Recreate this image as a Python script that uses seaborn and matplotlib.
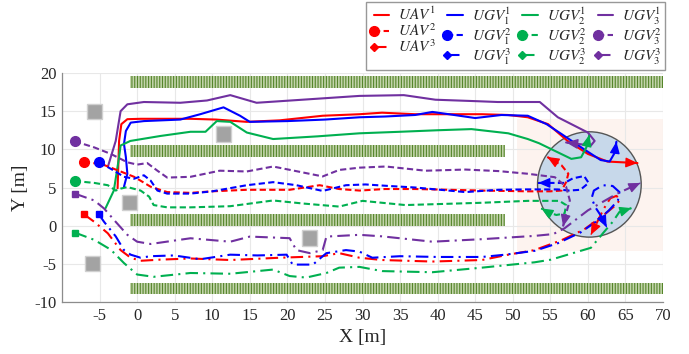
import numpy as np
import pandas as pd
import seaborn as sns
import matplotlib
matplotlib.use("Agg")
import matplotlib.pyplot as plt
from matplotlib.patches import Rectangle, Ellipse
from matplotlib.lines import Line2D
from matplotlib.legend_handler import HandlerLine2D

# ---------------- data ----------------
uav1_x = [-2.6, -2.5, -2.4, -2.1, -1.3, 0.5, 3.0, 7.1, 10.5, 14.6, 19.0, 24.7, 29.6, 32.6, 37.0, 41.5, 45.9, 49.4, 52.0, 54.7, 57.3, 60.0, 62.6, 66.6]
uav1_y = [4.9, 8.0, 11.1, 13.3, 13.95, 14.0, 14.0, 14.0, 13.9, 13.6, 13.8, 14.4, 14.6, 14.8, 14.6, 14.6, 14.6, 14.5, 14.2, 13.3, 11.1, 9.4, 8.4, 8.2]
ugv11_x = [-1.75, -1.3, -1.5, -1.75, -1.5, -0.85, 0.9, 5.75, 8.4, 11.5, 13.7, 15.0, 20.0, 25.0, 29.6, 33.0, 37.0, 39.3, 41.5, 45.0, 48.5, 52.0, 54.5, 56.5, 59.5, 61.7, 62.9, 63.6, 63.8]
ugv11_y = [5.1, 6.8, 9.0, 10.7, 12.4, 13.5, 13.7, 13.9, 14.6, 15.5, 14.4, 13.6, 13.7, 13.9, 14.2, 14.3, 14.5, 14.9, 14.6, 14.1, 14.5, 14.4, 13.3, 12.0, 10.0, 8.6, 8.4, 9.6, 11.0]
ugv21_x = [-4.2, -3.1, -2.4, -2.2, -0.9, 3.1, 7.1, 9.1, 10.6, 12.4, 14.6, 18.1, 24.0, 29.6, 35.0, 40.0, 44.5, 49.4, 52.0, 53.5, 55.6, 57.8, 59.1, 59.8, 60.2]
ugv21_y = [2.3, 4.6, 9.0, 10.5, 11.1, 11.75, 12.3, 12.3, 13.7, 13.6, 12.2, 11.35, 11.7, 12.1, 12.3, 12.5, 12.65, 12.1, 11.35, 10.8, 9.8, 8.75, 8.96, 10.26, 11.9]
ugv31_x = [-3.9, -2.85, -2.2, -1.3, 0.9, 5.75, 9.3, 12.4, 15.9, 22.0, 29.6, 35.5, 39.7, 45.4, 48.0, 53.6, 56.0, 58.2, 60.0, 60.9, 60.4, 57.1]
ugv31_y = [7.7, 11.1, 15.0, 15.9, 16.2, 16.1, 16.4, 17.1, 16.1, 16.5, 17.0, 17.1, 16.5, 16.3, 16.2, 16.2, 14.2, 13.1, 12.2, 11.1, 10.5, 10.9]

uav2_x = [-7.1, -4.8, -3.1, -0.4, 1.8, 4.0, 7.1, 10.0, 14.6, 20.3, 24.3, 26.9, 29.6, 33.0, 37.0, 41.5, 45.9, 52.0, 55.0, 56.5, 57.1, 57.4, 56.5, 54.6]
uav2_y = [8.3, 8.1, 7.45, 6.4, 5.1, 4.4, 4.3, 4.5, 4.7, 4.7, 5.3, 4.8, 4.6, 4.8, 4.8, 4.7, 4.6, 4.5, 4.5, 4.6, 5.7, 6.8, 7.9, 9.0]
ugv12_x = [-5.05, -3.5, -1.75, -0.4, 0.9, 1.8, 2.7, 4.0, 7.1, 10.0, 14.6, 18.1, 21.2, 24.7, 27.8, 30.4, 33.5, 37.0, 43.7, 48.1, 52.0, 56.0, 57.5, 59.0, 60.1, 59.5, 58.0, 56.9, 55.0, 53.4]
ugv12_y = [8.3, 7.45, 6.4, 6.15, 6.6, 5.9, 4.6, 4.2, 4.2, 4.5, 5.3, 5.7, 5.3, 4.55, 5.3, 5.4, 5.2, 5.0, 4.4, 4.7, 4.75, 4.75, 4.6, 4.7, 5.6, 6.5, 6.2, 5.6, 5.6, 5.6]
ugv22_x = [-8.3, -5.7, -3.9, -2.85, -2.2, -1.3, 0.46, 1.6, 2.2, 4.0, 7.1, 12.4, 18.1, 22.1, 26.9, 30.0, 35.7, 45.9, 52.0, 56.2, 57.1, 56.9, 55.8, 54.6, 53.8]
ugv22_y = [5.85, 5.6, 5.3, 4.6, 4.85, 5.06, 4.6, 3.8, 2.7, 2.4, 2.4, 2.55, 3.3, 2.9, 2.5, 3.25, 2.7, 3.0, 3.25, 3.25, 2.7, 1.6, 1.4, 1.8, 2.26]
ugv32_x = [-8.3, -5.7, -3.5, -1.3, 0.0, 1.35, 2.7, 4.0, 7.1, 11.0, 14.6, 18.1, 24.7, 26.9, 29.6, 33.1, 38.4, 43.7, 48.1, 52.0, 55.6, 57.1, 57.6, 57.1, 56.7]
ugv32_y = [11.05, 10.25, 9.4, 8.3, 8.0, 8.2, 7.2, 6.3, 6.4, 7.2, 7.1, 7.75, 6.45, 7.3, 7.6, 7.75, 7.2, 7.35, 7.15, 6.8, 6.35, 5.1, 3.3, 1.6, -0.1]

uav3_x = [-7.1, -5.7, -3.9, -2.2, -0.86, 0.46, 3.1, 7.1, 12.4, 19.0, 24.7, 26.9, 29.6, 32.6, 39.3, 45.9, 49.4, 52.9, 56.5, 59.5, 62.0, 63.6, 64.3, 63.8, 63.0, 62.4, 61.8, 61.2, 60.4]
uav3_y = [1.5, 0.5, -1.0, -3.2, -4.2, -4.6, -4.45, -4.3, -4.5, -4.2, -4.0, -3.6, -4.2, -4.5, -4.7, -4.5, -3.8, -3.2, -1.9, -0.5, 1.3, 2.6, 3.4, 3.9, 3.6, 2.7, 1.6, 0.4, -1.2]
ugv13_x = [-5.1, -4.4, -2.85, -1.75, -0.86, 0.46, 1.8, 4.9, 8.4, 12.4, 16.0, 19.9, 20.7, 23.4, 24.7, 25.2, 27.8, 29.6, 31.3, 35.0, 40.0, 45.9, 49.0, 52.9, 56.0, 59.0, 61.2, 62.8, 64.0, 64.2, 63.3, 62.0, 60.8, 60.5, 61.0, 61.8, 62.5]
ugv13_y = [1.5, 0.5, -1.4, -3.2, -3.8, -4.2, -4.0, -3.9, -4.4, -3.8, -3.9, -3.8, -5.1, -5.1, -4.0, -3.6, -3.2, -3.4, -4.2, -4.0, -4.1, -4.1, -3.8, -3.3, -2.3, -0.9, 0.6, 2.0, 3.3, 4.4, 5.2, 5.3, 4.6, 3.6, 2.4, 1.2, -0.2]
ugv23_x = [-8.3, -5.7, -3.5, -1.75, 0.0, 2.2, 7.1, 12.4, 18.1, 20.3, 22.5, 25.2, 26.9, 29.6, 32.6, 39.3, 45.9, 52.9, 55.1, 58.0, 60.4, 62.0, 63.3, 64.2, 65.8]
ugv23_y = [-0.9, -1.86, -3.15, -4.9, -6.4, -6.7, -6.2, -6.3, -5.75, -6.6, -6.8, -6.2, -5.5, -5.4, -5.95, -6.1, -5.5, -4.8, -4.45, -3.6, -2.9, -1.0, 0.5, 1.8, 2.3]
ugv33_x = [-8.3, -5.7, -4.4, -2.85, -1.3, 0.0, 1.8, 7.1, 12.4, 15.0, 20.3, 21.2, 23.0, 24.7, 25.2, 29.6, 32.6, 39.3, 45.9, 52.9, 55.4, 56.9, 60.0, 63.9, 67.0]
ugv33_y = [4.2, 3.3, 2.25, 0.5, -1.2, -2.1, -2.4, -1.65, -2.1, -1.43, -1.64, -3.2, -3.6, -3.2, -1.43, -1.2, -1.4, -2.1, -1.77, -1.34, -1.1, -0.34, 2.0, 4.2, 5.6]

labels = [r"$UAV^1$", r"$UGV_1^1$", r"$UGV_2^1$", r"$UGV_3^1$",
          r"$UAV^2$", r"$UGV_1^2$", r"$UGV_2^2$", r"$UGV_3^2$",
          r"$UAV^3$", r"$UGV_1^3$", r"$UGV_2^3$", r"$UGV_3^3$"]

band_x0 = [-1.0, -1.0, -1.0, -1.0]
band_x1 = [70.0, 49.0, 49.0, 70.0]
band_y0 = [18.1, 9.05, 0.0, -9.0]
band_h = 1.55

obs_x = [-5.7, -1.0, -6.0, 11.5, 23.0]
obs_y = [15.0, 3.0, -5.0, 12.0, -1.6]
obs_size = 2.0

circle_c = (60.2, 5.4)
circle_r = 6.9
zone_x = [50.5, 70.0]
zone_y = [-3.3, 14.0]

xticks = [-10, -5, 0, 5, 10, 15, 20, 25, 30, 35, 40, 45, 50, 55, 60, 65, 70]
xticklabels = ["", "-5", "0", "5", "10", "15", "20", "25", "30", "35", "40", "45", "50", "55", "60", "65", "70"]
yticks = [-10, -5, 0, 5, 10, 15, 20]
yticklabels = ["-10", "-5", "0", "5", "10", "15", "20"]

# ---------------- style ----------------
sns.set_style("white")
plt.rcParams["font.family"] = ["Liberation Serif", "DejaVu Serif"]
plt.rcParams["mathtext.fontset"] = "stix"
plt.rcParams["hatch.linewidth"] = 0.8

colors = ["#ff0000", "#0000ff", "#00b050", "#7030a0"]
dash2 = (3.0, 1.6)
dash3 = (6.0, 2.5, 1.0, 2.5)

fig = plt.figure(figsize=(6.89, 3.54), dpi=100)
ax = fig.add_axes([62 / 689, 1 - 302 / 354, (663 - 62) / 689, (302 - 73) / 354])

# background decorations
ax.add_patch(Rectangle((zone_x[0], zone_y[0]), zone_x[1] - zone_x[0], zone_y[1] - zone_y[0],
                       facecolor="#fdf3ef", edgecolor="none", zorder=0.5))
for x0, x1, y0 in zip(band_x0, band_x1, band_y0):
    ax.add_patch(Rectangle((x0, y0), x1 - x0, band_h, facecolor="#c3d4ab",
                           edgecolor="#55852a", hatch="|" * 6, linewidth=0, zorder=1))
for ox, oy in zip(obs_x, obs_y):
    ax.add_patch(Rectangle((ox - obs_size / 2, oy - obs_size / 2), obs_size, obs_size,
                           facecolor="#a3a3a3", edgecolor="#d0d0d0", linewidth=1, zorder=1))
ax.add_patch(Ellipse(circle_c, 2 * circle_r, 2 * circle_r, facecolor="#c7d8ea",
                     edgecolor="#555555", linewidth=1.0, zorder=1.2))

groups = [
    [(uav1_x, uav1_y), (ugv11_x, ugv11_y), (ugv21_x, ugv21_y), (ugv31_x, ugv31_y)],
    [(uav2_x, uav2_y), (ugv12_x, ugv12_y), (ugv22_x, ugv22_y), (ugv32_x, ugv32_y)],
    [(uav3_x, uav3_y), (ugv13_x, ugv13_y), (ugv23_x, ugv23_y), (ugv33_x, ugv33_y)],
]
lw = 1.5


def add_arrow(xs, ys, c):
    x1, y1 = xs[-1], ys[-1]
    x0, y0 = xs[-2], ys[-2]
    ax.annotate("", xy=(x1, y1), xytext=(x1 - 0.05 * (x1 - x0), y1 - 0.05 * (y1 - y0)),
                arrowprops=dict(arrowstyle="-|>,head_length=0.7,head_width=0.3", color=c,
                                lw=1.0, shrinkA=0, shrinkB=0, mutation_scale=10), zorder=4)


for gi, group in enumerate(groups):
    for ci, (xs, ys) in enumerate(group):
        c = colors[ci]
        df = pd.DataFrame({"x": xs, "y": ys})
        kw = dict(color=c, linewidth=lw, sort=False, estimator=None, ax=ax, zorder=3)
        line_ax = sns.lineplot(data=df, x="x", y="y", **kw)
        ln = line_ax.lines[-1]
        if gi == 1:
            ln.set_dashes(dash2)
        elif gi == 2:
            ln.set_dashes(dash3)
        if gi == 1:
            ax.plot(xs[0], ys[0], marker="o", markersize=7, color=c, zorder=4)
        elif gi == 2:
            ax.plot(xs[0], ys[0], marker="s", markersize=5, color=c, zorder=4)
        add_arrow(xs, ys, c)

ax.set_xlim(-10, 70)
ax.set_ylim(-10, 20)
ax.set_xticks(xticks)
ax.set_xticklabels(xticklabels, fontsize=12)
ax.set_yticks(yticks)
ax.set_yticklabels(yticklabels, fontsize=12)
ax.set_xlabel("X [m]", fontsize=14, labelpad=4)
ax.set_ylabel("Y [m]", fontsize=14, labelpad=4)
ax.grid(True, color="#e8e8e8", linewidth=0.8)
ax.set_axisbelow(True)
for s in ["top", "right"]:
    ax.spines[s].set_visible(False)
for s in ["left", "bottom"]:
    ax.spines[s].set_color("#8c8c8c")
    ax.spines[s].set_linewidth(0.9)
ax.tick_params(axis="both", direction="in", length=3, color="#8c8c8c", pad=4)


class StartMarkerHandler(HandlerLine2D):
    def create_artists(self, legend, orig_handle, xdescent, ydescent, width, height, fontsize, trans):
        arts = super().create_artists(legend, orig_handle, xdescent, ydescent, width, height, fontsize, trans)
        for a in arts:
            a.set_markevery([0])
        return arts


# legend (column-major order)
handles = []
for ci in range(4):
    for gi in range(3):
        c = colors[ci]
        if gi == 0:
            h = Line2D([], [], color=c, lw=lw)
        elif gi == 1:
            h = Line2D([], [], color=c, lw=lw, marker="o", markersize=7)
            h.set_dashes(dash2)
        else:
            h = Line2D([], [], color=c, lw=lw, marker="D", markersize=4)
            h.set_dashes(dash3)
        handles.append(h)
leg_labels = [labels[gi * 4 + ci] for ci in range(4) for gi in range(3)]
leg = fig.legend(handles, leg_labels, loc="upper right", bbox_to_anchor=(665 / 689, 1 - 2 / 354),
                 ncol=4, numpoints=2, fontsize=11, frameon=True, fancybox=False,
                 handlelength=1.6, handletextpad=0.3, columnspacing=0.4,
                 labelspacing=-0.05, borderpad=0.2, borderaxespad=0,
                 handler_map={Line2D: StartMarkerHandler()})
leg.get_frame().set_edgecolor("#7f7f7f")
leg.get_frame().set_linewidth(1.0)

fig.savefig("out.png", dpi=100)
